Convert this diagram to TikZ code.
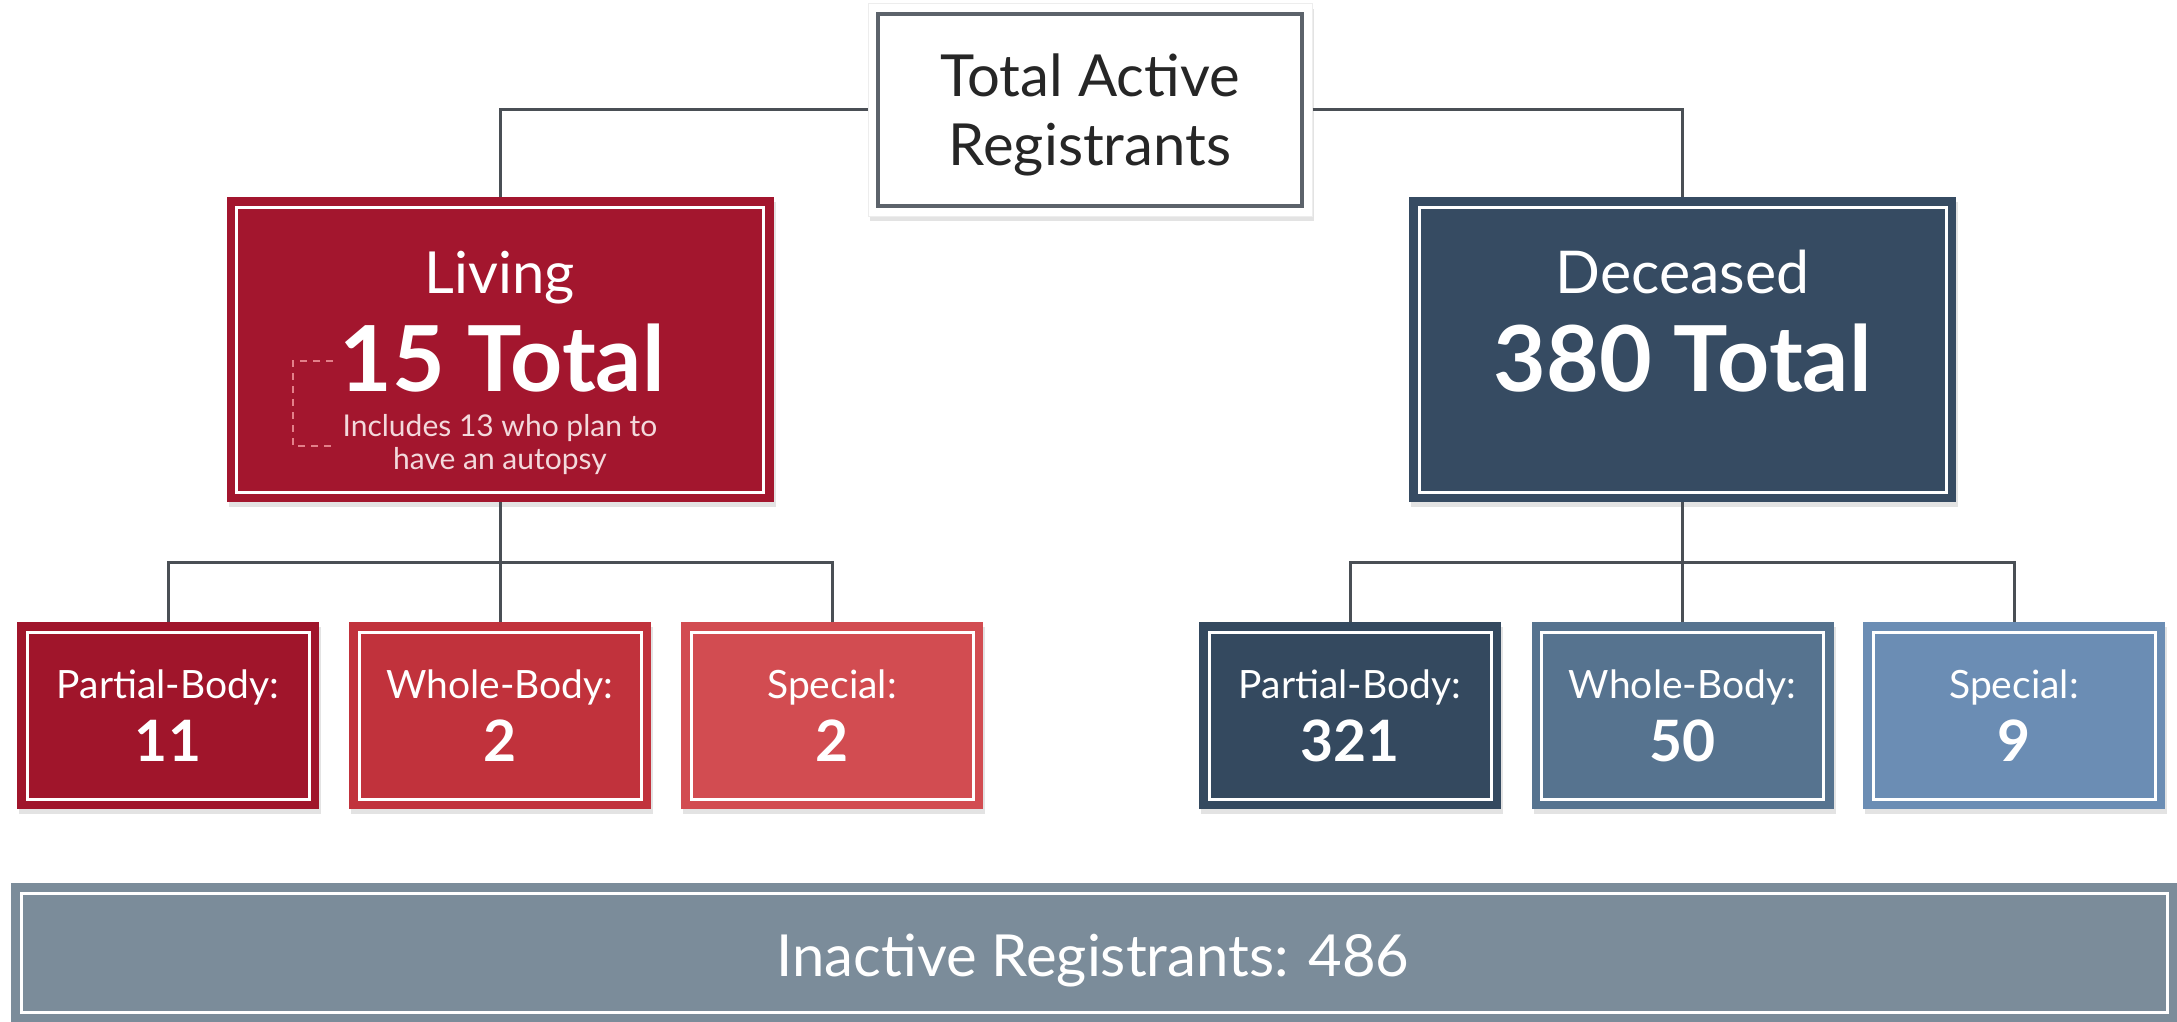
\documentclass[tikz,border=0pt]{standalone}
\usepackage{fontspec}
\setmainfont{Lato}
\usetikzlibrary{shadows,calc}
\definecolor{conn}{HTML}{4A4F55}
\definecolor{livred}{HTML}{A3162E}
\definecolor{redA}{HTML}{A0152B}
\definecolor{redB}{HTML}{C1323C}
\definecolor{redC}{HTML}{D24C51}
\definecolor{decblue}{HTML}{364B62}
\definecolor{blueA}{HTML}{34495F}
\definecolor{blueB}{HTML}{56738F}
\definecolor{blueC}{HTML}{6B8DB4}
\definecolor{inact}{HTML}{7B8C9A}
\definecolor{topline}{HTML}{5C636B}
\definecolor{dashpink}{HTML}{E3808A}
\definecolor{subtxt}{HTML}{F3D9DC}
\tikzset{
  conline/.style={draw=conn, line width=3pt},
  box/.style={rectangle, inner sep=0pt, draw=none,
    drop shadow={opacity=0.22, shadow xshift=2pt, shadow yshift=-5pt},
    path picture={\draw[white,line width=3pt]
      ([shift={(10pt,-10pt)}]path picture bounding box.north west) rectangle
      ([shift={(-10pt,10pt)}]path picture bounding box.south east);}},
  bigbox/.style={box, minimum width=547pt, minimum height=305pt},
  smallbox/.style={box, minimum width=302pt, minimum height=187pt},
  txt/.style={inner sep=0pt, text=white, anchor=base},
  lbl/.style={txt, font=\fontsize{39}{44}\selectfont},
  num/.style={txt, font=\fontsize{57}{64}\selectfont\bfseries},
}
\begin{document}
\begin{tikzpicture}[x=1pt,y=-1pt]
\useasboundingbox (0,0) rectangle (2177,1022);
% nodes
\node[rectangle, fill=white, draw=black!7, line width=1pt, minimum width=444pt, minimum height=212pt,
  drop shadow={opacity=0.22, shadow xshift=2pt, shadow yshift=-5pt},
  path picture={\draw[topline,line width=3.5pt]
      ([shift={(10pt,-10pt)}]path picture bounding box.north west) rectangle
      ([shift={(-10pt,10pt)}]path picture bounding box.south east);}]
  (top) at (1090,110) {};
\node[bigbox, fill=livred] (liv) at (500,349.5) {};
\node[bigbox, fill=decblue] (dec) at (1682.5,349.5) {};
\node[smallbox, fill=redA] (lp) at (168,715.5) {};
\node[smallbox, fill=redB] (lw) at (500,715.5) {};
\node[smallbox, fill=redC] (ls) at (832,715.5) {};
\node[smallbox, fill=blueA] (dp) at (1350,715.5) {};
\node[smallbox, fill=blueB] (dw) at (1682.5,715.5) {};
\node[smallbox, fill=blueC] (ds) at (2014,715.5) {};
\node[box, fill=inact, minimum width=2166pt, minimum height=139pt] (inact) at (1094,952.5) {};
% connectors
\coordinate (lj) at (500,562);
\coordinate (dj) at (1682.5,562);
\draw[conline] (top.west) -| (liv.north);
\draw[conline] (top.east) -| (dec.north);
\draw[conline] (liv.south) -- (lj);
\draw[conline] (lj) -| (lp.north);
\draw[conline] (lj) -| (ls.north);
\draw[conline] (lj) -- (lw.north);
\draw[conline] (dec.south) -- (dj);
\draw[conline] (dj) -| (dp.north);
\draw[conline] (dj) -| (ds.north);
\draw[conline] (dj) -- (dw.north);
% texts
\node[txt, text=black!85, font=\fontsize{58}{64}\selectfont] (t1) at (1090,97) {Total Active};
\node[txt, text=black!85, font=\fontsize{58}{64}\selectfont] (t2) at (1090,165) {Registrants};
\node[txt, font=\fontsize{58}{64}\selectfont] (livt) at (500,293) {Living};
\node[txt, font=\fontsize{91}{98}\selectfont\bfseries] (livn) at (502,391) {15 Total};
\node[txt, text=subtxt, font=\fontsize{30}{34}\selectfont] (livs1) at (500,436) {Includes 13 who plan to};
\node[txt, text=subtxt, font=\fontsize{30}{34}\selectfont] (livs2) at (500,469) {have an autopsy};
\draw[dashpink, line width=2pt, dash pattern=on 7pt off 6pt] (333,361) -- (293,361) -- (293,446) -- (333,446);
\node[txt, font=\fontsize{59}{64}\selectfont] (dect) at (1682.5,293) {Deceased};
\node[txt, font=\fontsize{91}{98}\selectfont\bfseries] (decn) at (1682.5,391) {380 Total};
\node[lbl] (lpl) at (168,698) {Partial-Body:};
\node[num] (lpn) at (168,761) {11};
\node[lbl] (lwl) at (500,698) {Whole-Body:};
\node[num] (lwn) at (500,761) {2};
\node[lbl] (lsl) at (832,698) {Special:};
\node[num] (lsn) at (832,761) {2};
\node[lbl] (dpl) at (1350,698) {Partial-Body:};
\node[num] (dpn) at (1350,761) {321};
\node[lbl] (dwl) at (1682.5,698) {Whole-Body:};
\node[num] (dwn) at (1682.5,761) {50};
\node[lbl] (dsl) at (2014,698) {Special:};
\node[num] (dsn) at (2014,761) {9};
\node[txt, font=\fontsize{58}{64}\selectfont] (inl) at (1093,976) {Inactive Registrants: 486};
\end{tikzpicture}
\end{document}
